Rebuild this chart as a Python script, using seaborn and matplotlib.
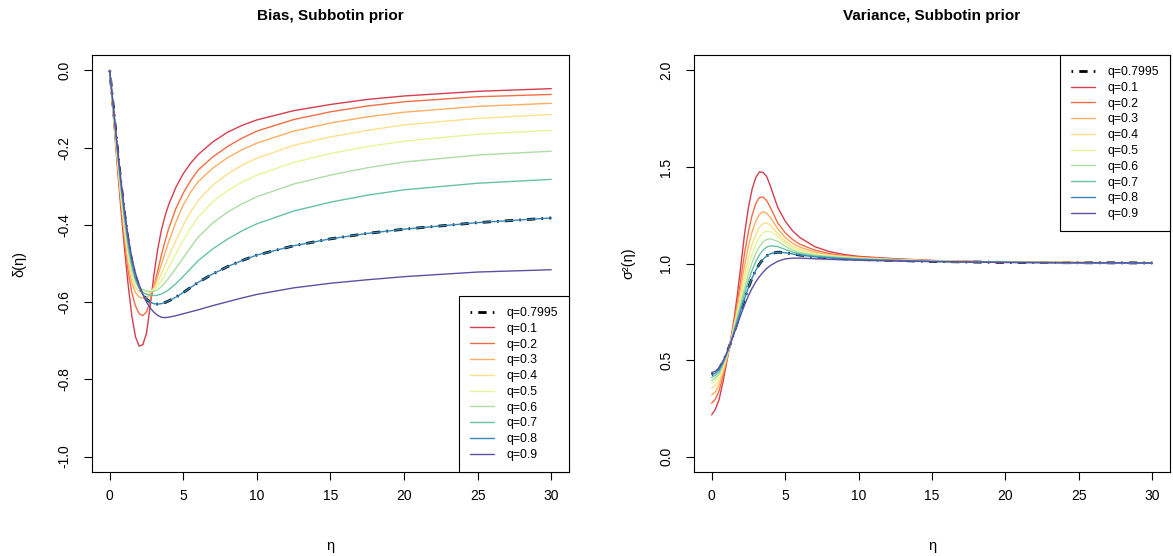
import numpy as np
import pandas as pd
import matplotlib
matplotlib.use('Agg')
import matplotlib.pyplot as plt
import seaborn as sns

# values
eta = [0, 0.25, 0.5, 0.75, 1, 1.25, 1.5, 1.75, 2, 2.25, 2.5, 2.75, 3, 3.25, 3.5, 3.75,
       4, 4.5, 5, 5.5, 6, 7, 8, 9, 10, 12.5, 15, 17.5, 20, 25, 30]

q_labels = ['q=0.1', 'q=0.2', 'q=0.3', 'q=0.4', 'q=0.5', 'q=0.6', 'q=0.7', 'q=0.8', 'q=0.9']
q_colors = ['#D53E4F', '#F46D43', '#FDAE61', '#FEE08B', '#E6F598',
            '#ABDDA4', '#66C2A5', '#3288BD', '#5E4FA2']

# bias delta(eta)
bias_q1 = [0, -0.12, -0.24, -0.355, -0.46, -0.555, -0.635, -0.69, -0.714, -0.71, -0.68, -0.61, -0.53,
           -0.465, -0.415, -0.378, -0.348, -0.302, -0.267, -0.24, -0.218, -0.185, -0.16, -0.142, -0.128,
           -0.104, -0.088, -0.075, -0.066, -0.054, -0.047]
bias_q2 = [0, -0.115, -0.23, -0.34, -0.44, -0.52, -0.575, -0.61, -0.63, -0.635, -0.625, -0.598, -0.56,
           -0.52, -0.48, -0.443, -0.41, -0.357, -0.317, -0.285, -0.258, -0.224, -0.197, -0.175, -0.157,
           -0.127, -0.107, -0.092, -0.081, -0.068, -0.062]
bias_q3 = [0, -0.11, -0.222, -0.33, -0.425, -0.5, -0.55, -0.575, -0.587, -0.59, -0.59, -0.58, -0.56,
           -0.533, -0.503, -0.473, -0.445, -0.392, -0.348, -0.315, -0.288, -0.253, -0.226, -0.205, -0.188,
           -0.157, -0.136, -0.12, -0.108, -0.093, -0.085]
bias_q4 = [0, -0.108, -0.218, -0.322, -0.41, -0.488, -0.535, -0.562, -0.573, -0.577, -0.578, -0.575, -0.565,
           -0.548, -0.527, -0.505, -0.482, -0.44, -0.4, -0.366, -0.337, -0.297, -0.268, -0.245, -0.227,
           -0.194, -0.172, -0.155, -0.141, -0.124, -0.114]
bias_q5 = [0, -0.106, -0.214, -0.316, -0.4, -0.475, -0.525, -0.552, -0.565, -0.57, -0.572, -0.572, -0.568,
           -0.558, -0.545, -0.528, -0.51, -0.475, -0.44, -0.408, -0.38, -0.34, -0.311, -0.289, -0.271,
           -0.238, -0.215, -0.197, -0.183, -0.165, -0.155]
bias_q6 = [0, -0.104, -0.208, -0.308, -0.39, -0.463, -0.515, -0.546, -0.562, -0.568, -0.571, -0.573, -0.572,
           -0.568, -0.56, -0.55, -0.538, -0.512, -0.485, -0.458, -0.432, -0.395, -0.367, -0.345, -0.327,
           -0.294, -0.271, -0.252, -0.237, -0.219, -0.209]
bias_q7 = [0, -0.1, -0.2, -0.295, -0.38, -0.452, -0.505, -0.541, -0.563, -0.575, -0.58, -0.582, -0.583,
           -0.582, -0.579, -0.574, -0.568, -0.552, -0.533, -0.513, -0.493, -0.462, -0.437, -0.415, -0.397,
           -0.364, -0.341, -0.323, -0.309, -0.292, -0.282]
bias_q8 = [0, -0.097, -0.195, -0.288, -0.37, -0.44, -0.495, -0.535, -0.562, -0.58, -0.592, -0.6, -0.604,
           -0.605, -0.604, -0.601, -0.597, -0.587, -0.575, -0.562, -0.549, -0.527, -0.508, -0.492, -0.478,
           -0.454, -0.436, -0.422, -0.411, -0.394, -0.382]
bias_q9 = [0, -0.095, -0.19, -0.28, -0.36, -0.43, -0.485, -0.525, -0.555, -0.58, -0.6, -0.615, -0.626,
           -0.634, -0.639, -0.64, -0.639, -0.635, -0.63, -0.625, -0.62, -0.609, -0.599, -0.589, -0.58,
           -0.563, -0.551, -0.542, -0.534, -0.522, -0.516]
bias_qopt = [0, -0.097, -0.195, -0.288, -0.37, -0.44, -0.495, -0.535, -0.562, -0.58, -0.592, -0.6, -0.604,
             -0.605, -0.604, -0.601, -0.597, -0.587, -0.575, -0.562, -0.549, -0.527, -0.508, -0.492, -0.478,
             -0.454, -0.436, -0.422, -0.411, -0.394, -0.382]

# variance sigma^2(eta)
var_q1 = [0.216, 0.245, 0.295, 0.38, 0.48, 0.585, 0.7, 0.84, 1.0, 1.16, 1.29, 1.385, 1.445,
          1.475, 1.472, 1.45, 1.4, 1.29, 1.22, 1.17, 1.135, 1.088, 1.062, 1.047, 1.037,
          1.025, 1.016, 1.011, 1.008, 1.005, 1.003]
var_q2 = [0.277, 0.297, 0.34, 0.41, 0.49, 0.58, 0.685, 0.8, 0.93, 1.06, 1.165, 1.25, 1.31,
          1.342, 1.345, 1.325, 1.29, 1.21, 1.16, 1.125, 1.1, 1.07, 1.052, 1.041, 1.034,
          1.023, 1.015, 1.011, 1.008, 1.005, 1.003]
var_q3 = [0.32, 0.335, 0.37, 0.43, 0.5, 0.58, 0.675, 0.775, 0.885, 0.995, 1.09, 1.165, 1.22,
          1.255, 1.268, 1.26, 1.238, 1.18, 1.135, 1.105, 1.085, 1.06, 1.046, 1.038, 1.031,
          1.021, 1.014, 1.01, 1.008, 1.005, 1.003]
var_q4 = [0.355, 0.367, 0.395, 0.445, 0.508, 0.58, 0.665, 0.755, 0.85, 0.945, 1.03, 1.1, 1.15,
          1.188, 1.208, 1.21, 1.198, 1.155, 1.115, 1.09, 1.073, 1.053, 1.042, 1.035, 1.029,
          1.02, 1.014, 1.01, 1.007, 1.005, 1.003]
var_q5 = [0.38, 0.39, 0.415, 0.46, 0.515, 0.58, 0.66, 0.74, 0.825, 0.91, 0.985, 1.05, 1.1,
          1.137, 1.16, 1.168, 1.165, 1.14, 1.105, 1.08, 1.065, 1.048, 1.039, 1.033, 1.027,
          1.019, 1.013, 1.01, 1.007, 1.005, 1.003]
var_q6 = [0.395, 0.405, 0.428, 0.47, 0.52, 0.58, 0.652, 0.725, 0.8, 0.875, 0.945, 1.005, 1.052,
          1.088, 1.112, 1.125, 1.128, 1.115, 1.09, 1.07, 1.057, 1.043, 1.036, 1.03, 1.025,
          1.018, 1.012, 1.009, 1.007, 1.004, 1.003]
var_q7 = [0.41, 0.42, 0.44, 0.478, 0.525, 0.58, 0.645, 0.712, 0.78, 0.848, 0.91, 0.965, 1.01,
          1.045, 1.07, 1.085, 1.092, 1.088, 1.073, 1.06, 1.05, 1.039, 1.033, 1.028, 1.023,
          1.017, 1.012, 1.009, 1.006, 1.004, 1.003]
var_q8 = [0.425, 0.432, 0.452, 0.487, 0.53, 0.58, 0.638, 0.698, 0.76, 0.82, 0.876, 0.925, 0.965,
          0.998, 1.022, 1.04, 1.051, 1.059, 1.056, 1.05, 1.044, 1.035, 1.029, 1.025, 1.021,
          1.016, 1.011, 1.008, 1.006, 1.004, 1.003]
var_q9 = [0.435, 0.442, 0.46, 0.492, 0.533, 0.58, 0.632, 0.685, 0.738, 0.788, 0.833, 0.872, 0.905,
          0.932, 0.955, 0.975, 0.99, 1.012, 1.024, 1.028, 1.028, 1.025, 1.022, 1.019, 1.017,
          1.013, 1.01, 1.008, 1.006, 1.004, 1.003]
var_qopt = [0.425, 0.432, 0.452, 0.487, 0.53, 0.58, 0.638, 0.698, 0.76, 0.82, 0.876, 0.925, 0.965,
            0.998, 1.022, 1.04, 1.051, 1.059, 1.056, 1.05, 1.044, 1.035, 1.029, 1.025, 1.021,
            1.016, 1.011, 1.008, 1.006, 1.004, 1.003]

bias_all = [bias_q1, bias_q2, bias_q3, bias_q4, bias_q5, bias_q6, bias_q7, bias_q8, bias_q9]
var_all = [var_q1, var_q2, var_q3, var_q4, var_q5, var_q6, var_q7, var_q8, var_q9]

sns.set_style('ticks')
plt.rcParams['font.family'] = ['Liberation Sans', 'DejaVu Sans']
plt.rcParams['axes.unicode_minus'] = False
plt.rcParams['text.color'] = 'black'
plt.rcParams['axes.labelcolor'] = 'black'

fig = plt.figure(figsize=(11.73, 5.56), dpi=100)
ax1 = fig.add_axes([0.0785, 0.151, 0.4065, 0.750])
ax2 = fig.add_axes([0.5917, 0.151, 0.4057, 0.750])


def panel(ax, opt, curves, title, ylab, ylim, yticks, legloc, ypad):
    sns.lineplot(x=eta, y=opt, ax=ax, color='black', lw=2.0, label='q=0.7995')
    ax.lines[-1].set_dashes([0.6, 2.2, 3.0, 2.2])
    for vals, col, lab in zip(curves, q_colors, q_labels):
        sns.lineplot(x=eta, y=vals, ax=ax, color=col, lw=1.0, label=lab)
    ax.set_xlim(-1.2, 31.2)
    ax.set_ylim(*ylim)
    ax.set_xticks([0, 5, 10, 15, 20, 25, 30])
    ax.set_yticks(yticks)
    ax.set_yticklabels(['%.1f' % v for v in yticks], rotation=90, va='center')
    ax.tick_params(direction='out', length=6, width=0.8, colors='black',
                   labelsize=10, pad=6)
    ax.tick_params(axis='y', pad=9)
    for s in ax.spines.values():
        s.set_visible(True)
        s.set_color('black')
        s.set_linewidth(0.8)
    ax.set_xlabel('η', fontsize=10.5, labelpad=26)
    ax.set_ylabel(ylab, fontsize=10.5, labelpad=ypad)
    ax.set_title(title, fontsize=11, fontweight='bold', pad=25)
    leg = ax.legend(loc=legloc, fontsize=8.8, frameon=True, fancybox=False,
                    framealpha=1, edgecolor='black', borderaxespad=0,
                    handlelength=2.0, handletextpad=1.0, labelspacing=0.31,
                    borderpad=0.9)
    leg.get_frame().set_linewidth(0.8)


panel(ax1, bias_qopt, bias_all, 'Bias, Subbotin prior', 'δ(η)',
      (-1.04, 0.04), [-1.0, -0.8, -0.6, -0.4, -0.2, 0.0], 'lower right', 22)
panel(ax2, var_qopt, var_all, 'Variance, Subbotin prior', 'σ²(η)',
      (-0.08, 2.08), [0.0, 0.5, 1.0, 1.5, 2.0], 'upper right', 17)

fig.savefig('out.png', dpi=100)
